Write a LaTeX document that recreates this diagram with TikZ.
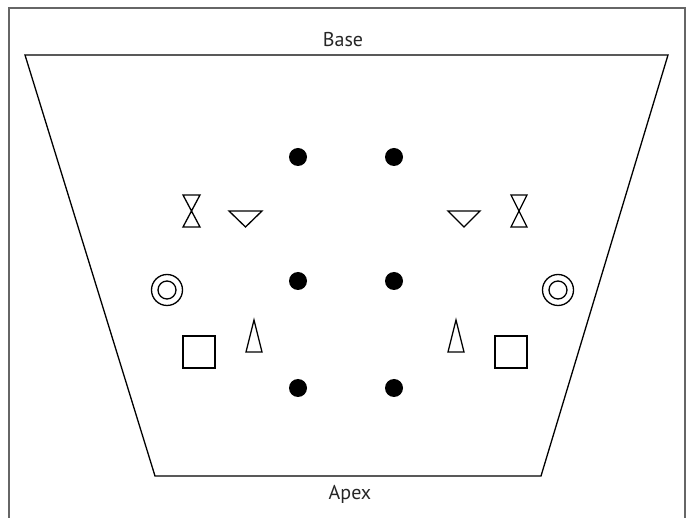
\documentclass[tikz,border=0pt]{standalone}
\usepackage{fontspec}
\setmainfont{PT Sans}
\begin{document}
\begin{tikzpicture}[x=1pt,y=-1pt,line join=miter,
  shp/.style={draw=black,line width=1.3pt},
  dot/.style={fill=black},
  lbl/.style={font=\fontsize{20}{24}\selectfont,text=black!85,inner sep=0pt,anchor=base}]
\useasboundingbox (0,0) rectangle (694,518);
% outer frame (open at bottom)
\draw[black!60,line width=1.2pt] (9,518) -- (9,8) -- (685,8) -- (685,518);
% trapezoid
\draw[shp] (25,55) -- (668,55) -- (541,476) -- (155,476) -- cycle;
\node[lbl] (base) at (343,47) {Base};
\node[lbl] (apex) at (350,500) {Apex};
% dots
\foreach \x/\y in {298/157,394/157,298/281,394/281,298/388,394/388}
  \fill[dot] (\x,\y) circle (9);
% hourglasses
\draw[shp] (183,195) -- (200,195) -- (183,227) -- (200,227) -- cycle;
\draw[shp] (511,195) -- (527,195) -- (511,227) -- (527,227) -- cycle;
% down triangles
\draw[shp] (229,211) -- (262,211) -- (245.5,227) -- cycle;
\draw[shp] (448,211) -- (480,211) -- (464,227) -- cycle;
% double circles
\draw[shp] (167,290) circle (15.5);
\draw[shp] (167,290) circle (9);
\draw[shp] (558,290) circle (15.5);
\draw[shp] (558,290) circle (9);
% thin triangles
\draw[shp] (246,352) -- (262,352) -- (254,320) -- cycle;
\draw[shp] (448,352) -- (464,352) -- (456,320) -- cycle;
% squares
\draw[shp] (183,336) rectangle (215,368);
\draw[shp] (495,336) rectangle (527,368);
\end{tikzpicture}
\end{document}
